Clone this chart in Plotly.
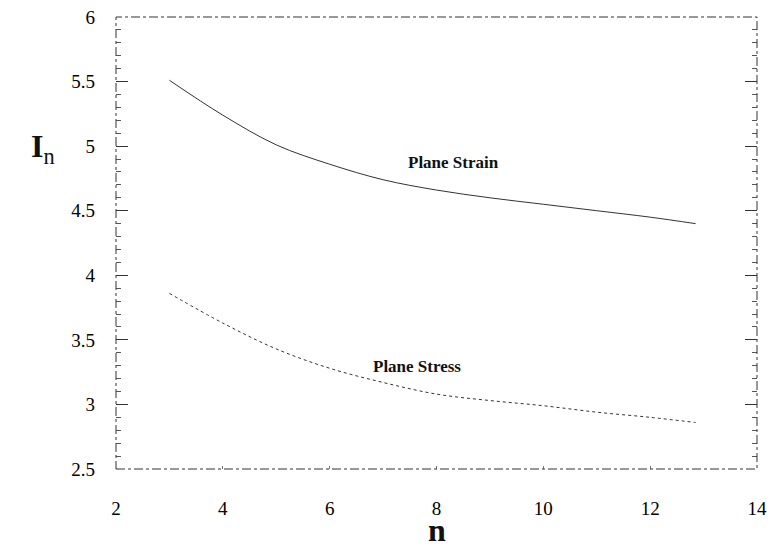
import plotly.graph_objects as go

n_strain = [3, 4, 5, 6, 7, 8, 9, 10, 11, 12, 12.85]
I_strain = [5.51, 5.24, 5.01, 4.86, 4.74, 4.66, 4.60, 4.55, 4.50, 4.45, 4.40]

n_stress = [3, 4, 5, 6, 7, 8, 9, 10, 11, 12, 12.85]
I_stress = [3.86, 3.63, 3.43, 3.28, 3.17, 3.08, 3.03, 2.99, 2.94, 2.90, 2.86]

x_ticks = [2, 4, 6, 8, 10, 12, 14]
y_ticks = [2.5, 3, 3.5, 4, 4.5, 5, 5.5, 6]

FONT = "Liberation Serif"

fig = go.Figure()
fig.add_trace(go.Scatter(x=n_strain, y=I_strain, mode="lines", line=dict(color="#333333", width=1, shape="spline"),
                         name="Plane Strain", showlegend=False))
fig.add_trace(go.Scatter(x=n_stress, y=I_stress, mode="lines", line=dict(color="#333333", width=1, dash="dot", shape="spline"),
                         name="Plane Stress", showlegend=False))

fig.add_annotation(x=8.31, y=4.87, text="<b>Plane Strain</b>", showarrow=False,
                   font=dict(family=FONT, size=17, color="#111"))
fig.add_annotation(x=7.63, y=3.29, text="<b>Plane Stress</b>", showarrow=False,
                   font=dict(family=FONT, size=17, color="#111"))
fig.add_annotation(xref="paper", yref="y", x=-0.135, y=4.98, text="<b>I</b><sub>n</sub>", showarrow=False,
                   font=dict(family=FONT, size=32, color="#111"))
fig.add_annotation(xref="x", yref="paper", x=8.0, y=-0.135, yanchor="middle", text="<b>n</b>", showarrow=False,
                   font=dict(family=FONT, size=32, color="#111"))

fig.add_shape(type="rect", xref="paper", yref="paper", x0=0, y0=0, x1=1, y1=1,
              line=dict(color="#333333", width=1, dash="dashdot"))

fig.update_xaxes(range=[2, 14], tickvals=x_ticks, ticktext=[str(v) for v in x_ticks],
                 showgrid=False, zeroline=False, showline=False, automargin=False,
                 ticks="inside", ticklen=3, tickcolor="#777", mirror=False,
                 ticklabelstandoff=26, ticklabeloverflow="allow",
                 tickfont=dict(family=FONT, size=19, color="#000"))
fig.update_yaxes(range=[2.5, 6], tickvals=y_ticks, ticktext=[str(v) for v in y_ticks],
                 showgrid=False, zeroline=False, showline=False, automargin=False,
                 ticks="inside", ticklen=12, tickcolor="#333", tickwidth=1, mirror="ticks",
                 minor=dict(dtick=0.1, ticks="inside", ticklen=5, tickcolor="#555", tickwidth=1),
                 ticklabelstandoff=20, ticklabeloverflow="allow",
                 tickfont=dict(family=FONT, size=19, color="#000"))

fig.update_layout(width=770, height=550, margin=dict(l=116, r=13, t=17, b=81, autoexpand=False),
                  plot_bgcolor="white", paper_bgcolor="white")

fig.write_html("out.html", config={"displayModeBar": False},
               post_script="document.body.style.margin='0';document.body.style.overflow='hidden';")
